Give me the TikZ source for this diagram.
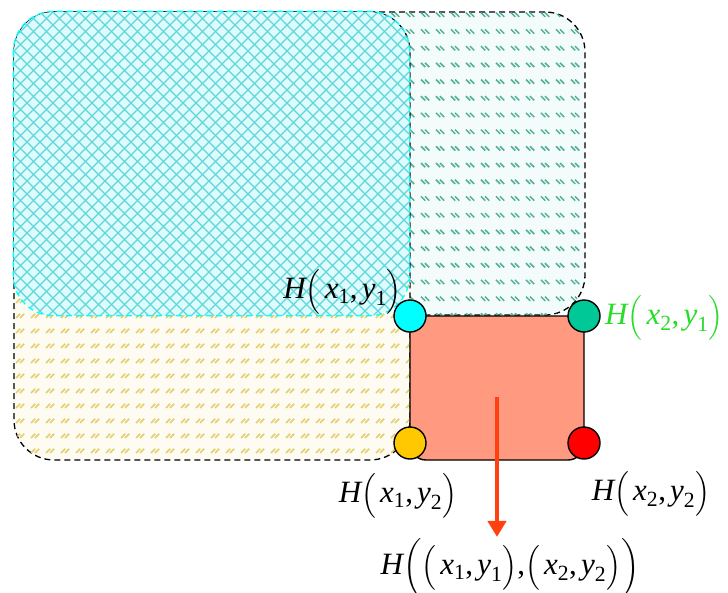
\documentclass[tikz,border=0pt]{standalone}
\usepackage{amsmath}
\usepackage{fontspec}
\setmainfont{Liberation Serif}
\usetikzlibrary{arrows.meta,positioning,patterns}
\definecolor{Aqua}{RGB}{0,255,255}
\definecolor{CrossCyan}{RGB}{95,214,218}
\definecolor{PaleCyan}{RGB}{222,252,254}
\definecolor{DashTeal}{RGB}{80,176,152}
\definecolor{PaleTeal}{RGB}{244,251,251}
\definecolor{DashGold}{RGB}{228,206,112}
\definecolor{PaleGold}{RGB}{254,252,242}
\definecolor{Salmon}{RGB}{255,153,128}
\definecolor{TealDot}{RGB}{0,200,150}
\definecolor{GoldDot}{RGB}{255,200,0}
\definecolor{ArrowRed}{RGB}{255,64,16}
\definecolor{LabelGreen}{RGB}{40,220,40}

% letters of the labels
\newcommand{\vH}{\text{\itshape H}}
\newcommand{\cpair}[2]{\Big(\,\text{\itshape x}_{\text{#1}}\text{,}\,\text{\itshape y}_{\text{#2}}\Big)}

% hatchings of the two outer zones
\pgfdeclarepatternformonly{rowsdown}{\pgfqpoint{-1pt}{-1pt}}{\pgfqpoint{16pt}{18pt}}{\pgfqpoint{15pt}{16.7pt}}{
  \pgfsetlinewidth{1.5pt}
  \pgfpathmoveto{\pgfqpoint{1pt}{11.5pt}}\pgfpathlineto{\pgfqpoint{7.5pt}{5pt}}
  \pgfpathmoveto{\pgfqpoint{5pt}{11.5pt}}\pgfpathlineto{\pgfqpoint{11.5pt}{5pt}}
  \pgfusepath{stroke}}
\pgfdeclarepatternformonly{rowsup}{\pgfqpoint{-1pt}{-1pt}}{\pgfqpoint{16pt}{16pt}}{\pgfqpoint{15pt}{15pt}}{
  \pgfsetlinewidth{1.5pt}
  \pgfpathmoveto{\pgfqpoint{1pt}{4pt}}\pgfpathlineto{\pgfqpoint{7.5pt}{10.5pt}}
  \pgfpathmoveto{\pgfqpoint{5pt}{4pt}}\pgfpathlineto{\pgfqpoint{11.5pt}{10.5pt}}
  \pgfusepath{stroke}}

\begin{document}
\begin{tikzpicture}[
      x=1pt,y=-1pt,
      zone/.style={rectangle,inner sep=0pt,rounded corners=40pt,line width=1.3pt,
                   dash pattern=on 6pt off 4pt},
      tealZone/.style={zone,draw=black,fill=PaleTeal,
                   postaction={pattern=rowsdown,pattern color=DashTeal}},
      goldZone/.style={zone,draw=black,fill=PaleGold,
                   postaction={pattern=rowsup,pattern color=DashGold}},
      cyanZone/.style={zone,fill=PaleCyan},
      block/.style={rectangle,inner sep=0pt,draw=black,fill=Salmon,rounded corners=16pt,line width=1.4pt},
      dot/.style={circle,inner sep=0pt,minimum size=32pt,draw=black,line width=1.4pt},
      lbl/.style={inner sep=1pt,font=\fontsize{31}{36}\selectfont},
      pointer/.style={-{Triangle[width=18pt,length=16pt]},line width=4pt,color=ArrowRed}
    ]
    \useasboundingbox (0,0) rectangle (728,592);

    % hatched zones
    \node(zoneA)[tealZone,minimum width=571pt,minimum height=303pt] at (299.5,163.5) {};
    \node(zoneB)[goldZone,minimum width=396pt,minimum height=448pt] at (212,236) {};
    \node(zoneC)[cyanZone,minimum width=395pt,minimum height=303pt] at (211.5,163.5) {};

    % crosshatch of the common zone
    \begin{scope}
      \clip[rounded corners=40pt] (zoneC.north west) rectangle (zoneC.south east);
      \foreach \k in {-24,...,54}{
        \draw[CrossCyan,line width=1.3pt] (14+13*\k,12) -- ++(310,310);
        \draw[CrossCyan,line width=1.3pt] (14+13*\k,12) -- ++(-310,310);
      }
    \end{scope}
    \draw[zone,draw=Aqua] (zoneC.north west) rectangle (zoneC.south east);

    % block and its corner points
    \node(blk)[block,minimum width=174pt,minimum height=144pt] at (497,388) {};
    \node(p11)[dot,fill=Aqua] at (410,316) {};
    \node(p21)[dot,fill=TealDot] at (584,316) {};
    \node(p12)[dot,fill=GoldDot] at (410,443) {};
    \node(p22)[dot,fill=red] at (584,443) {};

    % labels
    \node(h11)[lbl,anchor=east] at (403,292) {$\vH\cpair{1}{1}$};
    \node(h21)[lbl,anchor=west,text=LabelGreen] at (604,318) {$\vH\cpair{2}{1}$};
    \node(h12)[lbl] at (398,496) {$\vH\cpair{1}{2}$};
    \node(h22)[lbl] at (651,494) {$\vH\cpair{2}{2}$};
    \node(hall)[lbl] at (510,568) {$\vH\bigg(\cpair{1}{1}\text{,}\cpair{2}{2}\bigg)$};

    % arrow to the pair
    \coordinate(src) at (497,397);
    \draw[pointer] (src) -- (src|-hall.north);
  \end{tikzpicture}
\end{document}
